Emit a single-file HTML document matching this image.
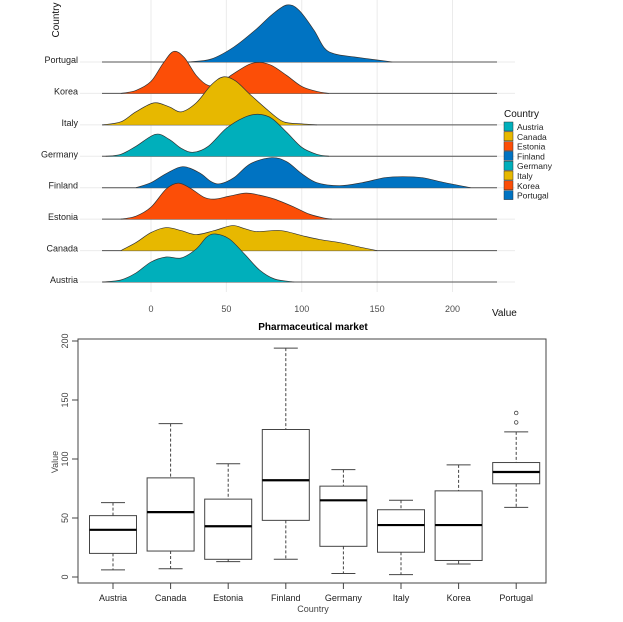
<!DOCTYPE html>
<html><head><meta charset="utf-8"><style>
html,body{margin:0;padding:0;background:#fff}
svg{display:block;font-family:"Liberation Sans",sans-serif}
</style></head><body>
<svg id="c" width="623" height="622" viewBox="0 0 623 622" xmlns="http://www.w3.org/2000/svg"></svg>
<script>
// ---------- Ridgeline data ----------
const ridgeCountries = ["Austria","Canada","Estonia","Finland","Germany","Italy","Korea","Portugal"];
const ridgeColors = ["#00AFBB","#E7B800","#FC4E07","#0073C2","#00AFBB","#E7B800","#FC4E07","#0073C2"];
const densAustria = [[-32,0],[-20,2],[-10,9],[0,20],[10,25],[20,24],[30,33],[37,45],[43,48],[52,43],[62,28],[72,12],[82,3],[95,0]];
const densCanada = [[-20,0],[-10,8],[0,18],[10,23],[20,20],[30,16],[42,20],[54,25],[62,22],[70,19],[86,20],[100,15],[112,11],[125,8],[140,3],[150,0]];
const densEstonia = [[-20,0],[-10,3],[0,12],[10,30],[18,36],[26,31],[35,22],[42,20],[52,23],[63,26],[72,24],[82,20],[95,12],[105,5],[115,1],[120,0]];
const densFinland = [[-10,0],[0,5],[10,14],[21,21],[32,15],[40,6],[46,4],[55,10],[66,24],[80,30],[90,26],[100,14],[110,5],[125,2],[140,5],[155,10],[167,11],[180,10],[195,5],[212,0]];
const densGermany = [[-30,0],[-20,2],[-10,10],[3,22],[12,17],[20,8],[28,4],[38,10],[50,28],[62,39],[71,42],[80,38],[90,24],[100,9],[110,2],[118,0]];
const densItaly = [[-32,0],[-20,3],[-10,13],[2,22],[12,18],[20,13],[30,22],[40,40],[48,48],[56,44],[66,30],[78,14],[88,3],[100,1],[110,0]];
const densKorea = [[-20,0],[-10,3],[0,12],[8,30],[15,42],[22,36],[30,18],[38,8],[45,10],[55,20],[65,29],[72,31],[80,28],[90,18],[100,7],[110,2],[118,0]];
const densPortugal = [[25,0],[40,3],[55,15],[70,33],[80,47],[90,57],[98,52],[108,32],[115,14],[122,8],[135,5],[150,2],[160,0]];
const ridgeXTicks = [0,50,100,150,200];

// ---------- Boxplot data ----------
const boxCountries = ["Austria","Canada","Estonia","Finland","Germany","Italy","Korea","Portugal"];
const boxLow = [6,7,13,15,3,2,11,59];
const boxQ1 = [20,22,15,48,26,21,14,79];
const boxMed = [40,55,43,82,65,44,44,89];
const boxQ3 = [52,84,66,125,77,57,73,97];
const boxHigh = [63,130,96,194,91,65,95,123];
const boxOutliers = [[],[],[],[],[],[],[],[131,139]];
const boxYTicks = [0,50,100,150,200];

const svg = document.getElementById('c');
const NS = "http://www.w3.org/2000/svg";
function mk(tag, attrs, parent){const e=document.createElementNS(NS,tag);for(const k in attrs)e.setAttribute(k,attrs[k]);(parent||svg).appendChild(e);return e;}

// ---------- Ridgeline ----------
const rx = v => 151 + v*1.5075;
const rowBase = i => 282 - i*31.43; // i index in ridgeCountries (Austria=0 bottom)
const dens = [densAustria,densCanada,densEstonia,densFinland,densGermany,densItaly,densKorea,densPortugal];
const rg = mk('g',{});  
ridgeXTicks.forEach(t=>{
  const l = mk('line',{x1:rx(t),x2:rx(t),y1:0,y2:292,stroke:'#ebebeb','stroke-width':1},rg);
   
  const tx = mk('text',{x:rx(t),y:312,'font-size':9,'text-anchor':'middle',fill:'#4d4d4d'},rg);
  tx.textContent=t;  
});
ridgeCountries.forEach((c,i)=>{
  const l = mk('line',{x1:80,x2:515,y1:rowBase(i),y2:rowBase(i),stroke:'#ebebeb','stroke-width':1},rg);
   
});
function smoothPath(pts){
  let d = `M${pts[0][0]},${pts[0][1]}`;
  for(let i=0;i<pts.length-1;i++){
    const p0=pts[Math.max(0,i-1)],p1=pts[i],p2=pts[i+1],p3=pts[Math.min(pts.length-1,i+2)];
    const c1=[p1[0]+(p2[0]-p0[0])/6,p1[1]+(p2[1]-p0[1])/6];
    const c2=[p2[0]-(p3[0]-p1[0])/6,p2[1]-(p3[1]-p1[1])/6];
    d+=` C${c1[0]},${c1[1]} ${c2[0]},${c2[1]} ${p2[0]},${p2[1]}`;
  }
  return d;
}
for(let i=ridgeCountries.length-1;i>=0;i--){
  const b = rowBase(i);
  const pts = dens[i].map(p=>[rx(p[0]), b - p[1]]);
  const d = smoothPath(pts);
  const g = mk('g',{},rg);  
  const base = mk('line',{x1:102,x2:497,y1:b,y2:b,stroke:'#555','stroke-width':1},g);
   
  const area = mk('path',{d:d+' Z',fill:ridgeColors[i],stroke:'none'},g);
   
  const ln = mk('path',{d:d,fill:'none',stroke:'#333','stroke-width':0.7},g);
   
  const lab = mk('text',{x:78,y:b+1,'font-size':9,'text-anchor':'end',fill:'#222'},rg);
  lab.textContent=ridgeCountries[i];  
}
let t1 = mk('text',{x:0,y:0,'font-size':10,fill:'#111','text-anchor':'middle',transform:'translate(59,20) rotate(-90)'},rg);
t1.textContent='Country';  
let t2 = mk('text',{x:492,y:316,'font-size':10,fill:'#111'},rg);
t2.textContent='Value';  
// legend
const lg = mk('g',{},rg);  
let lt = mk('text',{x:504,y:117,'font-size':10,fill:'#111'},lg);
lt.textContent='Country';  
ridgeCountries.forEach((c,i)=>{
  const y = 122 + i*9.8;
  const r = mk('rect',{x:504,y:y,width:9,height:9,fill:ridgeColors[i],stroke:'#333','stroke-width':0.5},lg);
   
  const t = mk('text',{x:517,y:y+8,'font-size':8.5,fill:'#222'},lg);
  t.textContent=c;  
});

// ---------- Boxplot ----------
const by = v => 577 - v*1.18;
const bx = i => 113 + i*57.6;
const bg = mk('g',{});  
let bt = mk('text',{x:313,y:330,'font-size':10,'font-weight':'bold','text-anchor':'middle',fill:'#000'},bg);
bt.textContent='Pharmaceutical market';  
let fr = mk('rect',{x:78,y:339,width:468,height:244,fill:'none',stroke:'#444','stroke-width':1},bg);
 
boxYTicks.forEach(t=>{
  const l = mk('line',{x1:72,x2:78,y1:by(t),y2:by(t),stroke:'#444'},bg);
   
  const tx = mk('text',{x:0,y:0,'font-size':9,'text-anchor':'middle',fill:'#444',transform:`translate(68,${by(t)}) rotate(-90)`},bg);
  tx.textContent=t;  
});
let yv = mk('text',{x:0,y:0,'font-size':9,'text-anchor':'middle',fill:'#444',transform:'translate(58,462) rotate(-90)'},bg);
yv.textContent='Value';  
let xc = mk('text',{x:313,y:612,'font-size':9,'text-anchor':'middle',fill:'#444'},bg);
xc.textContent='Country';  
const hw = 23.5;
boxCountries.forEach((c,i)=>{
  const x = bx(i);
  const g = mk('g',{},bg);  
  const tk = mk('line',{x1:x,x2:x,y1:583,y2:589,stroke:'#444'},g);
   
  const lab = mk('text',{x:x,y:601,'font-size':9,'text-anchor':'middle',fill:'#222'},g);
  lab.textContent=c;  
  const w1 = mk('line',{x1:x,x2:x,y1:by(boxHigh[i]),y2:by(boxQ3[i]),stroke:'#444','stroke-dasharray':'3,2'},g);
   
  const w2 = mk('line',{x1:x,x2:x,y1:by(boxQ1[i]),y2:by(boxLow[i]),stroke:'#444','stroke-dasharray':'3,2'},g);
   
  const c1 = mk('line',{x1:x-12,x2:x+12,y1:by(boxHigh[i]),y2:by(boxHigh[i]),stroke:'#444'},g);
   
  const c2 = mk('line',{x1:x-12,x2:x+12,y1:by(boxLow[i]),y2:by(boxLow[i]),stroke:'#444'},g);
   
  const r = mk('rect',{x:x-hw,y:by(boxQ3[i]),width:2*hw,height:by(boxQ1[i])-by(boxQ3[i]),fill:'#fff',stroke:'#444'},g);
   
  const m = mk('line',{x1:x-hw,x2:x+hw,y1:by(boxMed[i]),y2:by(boxMed[i]),stroke:'#000','stroke-width':2.2},g);
   
  boxOutliers[i].forEach(o=>{
    const p = mk('circle',{cx:x,cy:by(o),r:1.8,fill:'none',stroke:'#444','stroke-width':0.8},g);
     
  });
});
</script>
</body></html>
